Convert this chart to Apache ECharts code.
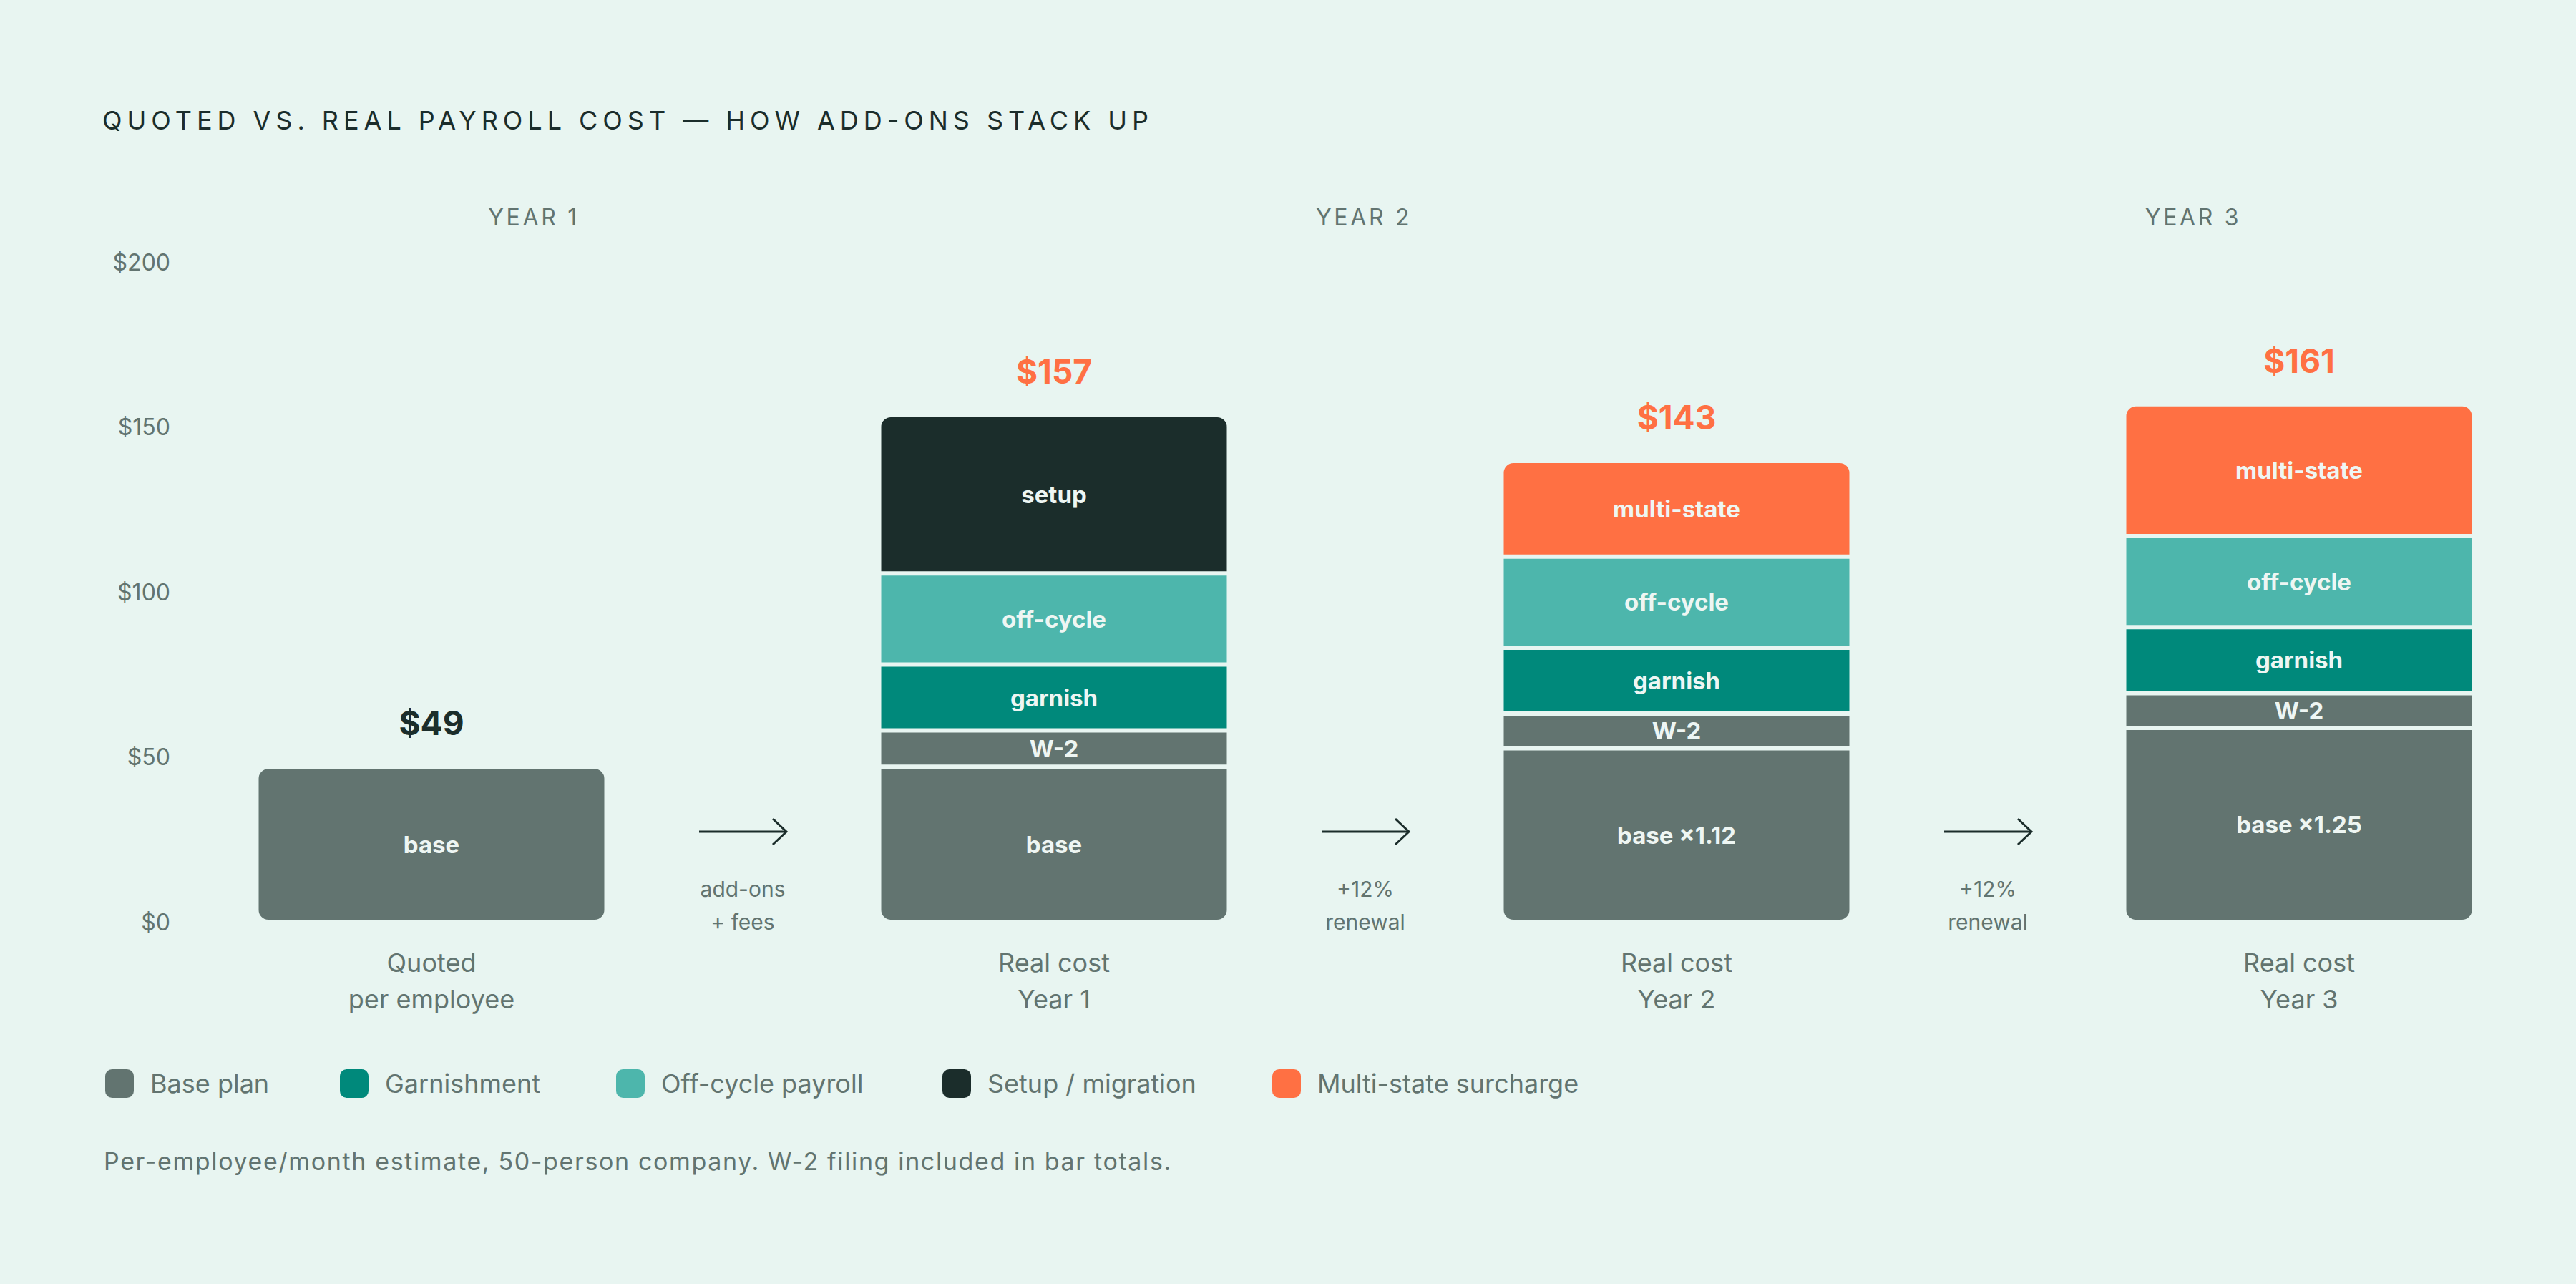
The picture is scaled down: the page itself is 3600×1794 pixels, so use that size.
<!DOCTYPE html>
<html>
<head>
<meta charset="utf-8">
<script src="https://cdn.jsdelivr.net/npm/echarts@6/dist/echarts.min.js"></script>
<style>
  html, body { margin: 0; padding: 0; background: #e8f5f1; }
  #chart { width: 3600px; height: 1794px; }
</style>
</head>
<body>
<div id="chart"></div>
<script>
// ---------- data ----------
const TITLE = 'QUOTED VS. REAL PAYROLL COST — HOW ADD-ONS STACK UP';
const FOOTNOTE = 'Per-employee/month estimate, 50-person company. W-2 filing included in bar totals.';
const categories = ['Quoted\nper employee', 'Real cost\nYear 1', 'Real cost\nYear 2', 'Real cost\nYear 3'];
const basePlan       = [47, 47, 52.6, 58.8];
const w2Filing       = [0, 11, 10.5, 10.5];
const garnishment    = [0, 20, 20, 20];
const offCyclePayroll = [0, 27.6, 27.6, 27.6];
const setupMigration = [0, 48, 0, 0];
const multiState     = [0, 0, 29, 40];
const totalLabels = ['$49', '$157', '$143', '$161'];
const baseLabels = ['base', 'base', 'base ×1.12', 'base ×1.25'];
const arrowLabels = ['add-ons\n+ fees', '+12%\nrenewal', '+12%\nrenewal'];
const yearHeaders = ['YEAR 1', 'YEAR 2', 'YEAR 3'];
const yTicks = [0, 50, 100, 150, 200];
const legendNames = ['Base plan', 'Garnishment', 'Off-cycle payroll', 'Setup / migration', 'Multi-state surcharge'];

// ---------- style ----------
const FONT = 'Inter, "DejaVu Sans", sans-serif';
const C = {
  bg: '#e8f5f1', base: '#627470', garn: '#00897b', off: '#4db6ac',
  setup: '#1b2d2b', multi: '#ff7043', text: '#627470', dark: '#1b2d2b', label: '#eef6f3'
};
const R = 15;
const yearX = [746, 1906, 3065];
const legendX = [145, 473, 859, 1315, 1776];

const stackDefs = [
  { name: 'Base plan', values: basePlan, color: C.base, labels: baseLabels },
  { name: 'W-2 filing', values: w2Filing, color: C.base, labels: 'W-2' },
  { name: 'Garnishment', values: garnishment, color: C.garn, labels: 'garnish' },
  { name: 'Off-cycle payroll', values: offCyclePayroll, color: C.off, labels: 'off-cycle' },
  { name: 'Setup / migration', values: setupMigration, color: C.setup, labels: 'setup' },
  { name: 'Multi-state surcharge', values: multiState, color: C.multi, labels: 'multi-state' }
];

// which segment is lowest / highest in each bar (for rounded corners)
const bottomIdx = categories.map((_, i) => stackDefs.findIndex(s => s.values[i] > 0));
const topIdx = categories.map((_, i) => {
  let t = -1;
  stackDefs.forEach((s, k) => { if (s.values[i] > 0) t = k; });
  return t;
});

const barSeries = stackDefs.map((s, k) => ({
  name: s.name,
  type: 'bar',
  stack: 'cost',
  barWidth: 489,
  itemStyle: { color: s.color, borderColor: C.bg, borderWidth: 3 },
  label: {
    show: true, position: 'inside', color: C.label,
    fontFamily: FONT, fontWeight: 'bold', fontSize: 33
  },
  data: s.values.map((v, i) => {
    if (!(v > 0)) return '-';
    const isTop = topIdx[i] === k, isBot = bottomIdx[i] === k;
    return {
      value: v,
      label: { formatter: Array.isArray(s.labels) ? s.labels[i] : s.labels },
      itemStyle: { borderRadius: [isTop ? R : 0, isTop ? R : 0, isBot ? R : 0, isBot ? R : 0] }
    };
  })
}));

const totalSeries = {
  name: 'Total',
  type: 'bar',
  stack: 'cost',
  barWidth: 489,
  silent: true,
  itemStyle: { color: 'rgba(0,0,0,0)', borderWidth: 0 },
  label: {
    show: true, position: 'top', distance: 38,
    fontFamily: FONT, fontWeight: 'bold', fontSize: 46, lineHeight: 46,
    formatter: p => totalLabels[p.dataIndex]
  },
  data: totalLabels.map((t, i) => ({ value: 0, label: { color: i === 0 ? C.dark : C.multi } }))
};

const arrowSeries = {
  type: 'custom',
  xAxisIndex: 1,
  yAxisIndex: 0,
  silent: true,
  z: 10,
  data: arrowLabels.map((t, i) => [i + 0.5, 0]),
  renderItem: (params, api) => {
    const p = api.coord([api.value(0), api.value(1)]);
    const cx = p[0], y = p[1] - 126, half = 61;
    return {
      type: 'group',
      children: [
        { type: 'line', shape: { x1: cx - half, y1: y, x2: cx + half, y2: y },
          style: { stroke: C.dark, lineWidth: 3 } },
        { type: 'polyline', shape: { points: [[cx + half - 19, y - 18], [cx + half, y], [cx + half - 19, y + 18]] },
          style: { stroke: C.dark, lineWidth: 3, fill: 'none' } },
        { type: 'text', x: cx, y: p[1] - 23,
          style: { text: arrowLabels[params.dataIndex], fill: C.text, font: '30px ' + FONT,
                   align: 'center', verticalAlign: 'middle', lineHeight: 46 } }
      ]
    };
  }
};

const option = {
  backgroundColor: C.bg,
  animation: false,
  title: {
    text: TITLE, left: 143, top: 150, padding: 0,
    textStyle: { fontFamily: FONT, fontSize: 36, lineHeight: 36, fontWeight: 'normal', color: C.dark }
  },
  legend: legendNames.map((n, i) => ({
    data: [n],
    left: legendX[i], top: 1492, padding: 0,
    itemWidth: 42, itemHeight: 42, icon: 'roundRect',
    textStyle: { fontFamily: FONT, fontSize: 36, color: C.text, padding: [0, 0, 0, 17] },
    selectedMode: false
  })),
  grid: { left: 603, right: 387, top: 366, bottom: 506, containLabel: false },
  xAxis: [
    {
      type: 'category', data: categories, boundaryGap: false,
      axisLine: { show: false }, axisTick: { show: false }, splitLine: { show: false },
      axisLabel: { margin: 31, color: C.text, fontFamily: FONT, fontSize: 36, lineHeight: 51 }
    },
    { type: 'value', min: 0, max: 3, show: false }
  ],
  yAxis: {
    type: 'value', min: yTicks[0], max: yTicks[yTicks.length - 1], interval: yTicks[1] - yTicks[0],
    axisLine: { show: false }, axisTick: { show: false }, splitLine: { show: false },
    axisLabel: { margin: 365, color: C.text, fontFamily: FONT, fontSize: 32,
                 padding: [0, 0, 6, 0], formatter: v => '$' + v }
  },
  graphic: [
    ...yearHeaders.map((t, i) => ({
      type: 'text', x: yearX[i], y: 303,
      style: { text: t, fill: C.text, font: '32px ' + FONT, align: 'center', verticalAlign: 'middle' }
    })),
    {
      type: 'text', x: 145, y: 1622,
      style: { text: FOOTNOTE, fill: C.text, font: '34px ' + FONT, align: 'left', verticalAlign: 'middle' }
    }
  ],
  series: [...barSeries, totalSeries, arrowSeries]
};

const chart = echarts.init(document.getElementById('chart'), null, { renderer: 'svg', width: 3600, height: 1794 });
chart.setOption(option);

// letter-spaced headings (tracking) applied to the SVG text nodes
function measure(text, font) {
  const c = document.createElement('canvas').getContext('2d');
  c.font = font;
  return c.measureText(text).width;
}
function applySpacing() {
  const titleNat = measure(TITLE, '36px ' + FONT);
  const titleSp = Math.max(0, (1462 - titleNat) / (TITLE.length - 1));
  const yearNat = measure('YEAR 1', '32px ' + FONT);
  const yearSp = Math.max(0, (124 - yearNat) / 5);
  const footNat = measure(FOOTNOTE, '34px ' + FONT);
  const footSp = Math.max(0, (1491 - footNat) / (FOOTNOTE.length - 1));
  document.querySelectorAll('#chart svg text').forEach(t => {
    const s = t.textContent;
    if (s === TITLE) t.style.letterSpacing = titleSp.toFixed(2) + 'px';
    else if (yearHeaders.indexOf(s) >= 0) t.style.letterSpacing = yearSp.toFixed(2) + 'px';
    else if (s === FOOTNOTE) t.style.letterSpacing = footSp.toFixed(2) + 'px';
  });
}
applySpacing();
chart.on('finished', applySpacing);
setTimeout(applySpacing, 50);
</script>
</body>
</html>
